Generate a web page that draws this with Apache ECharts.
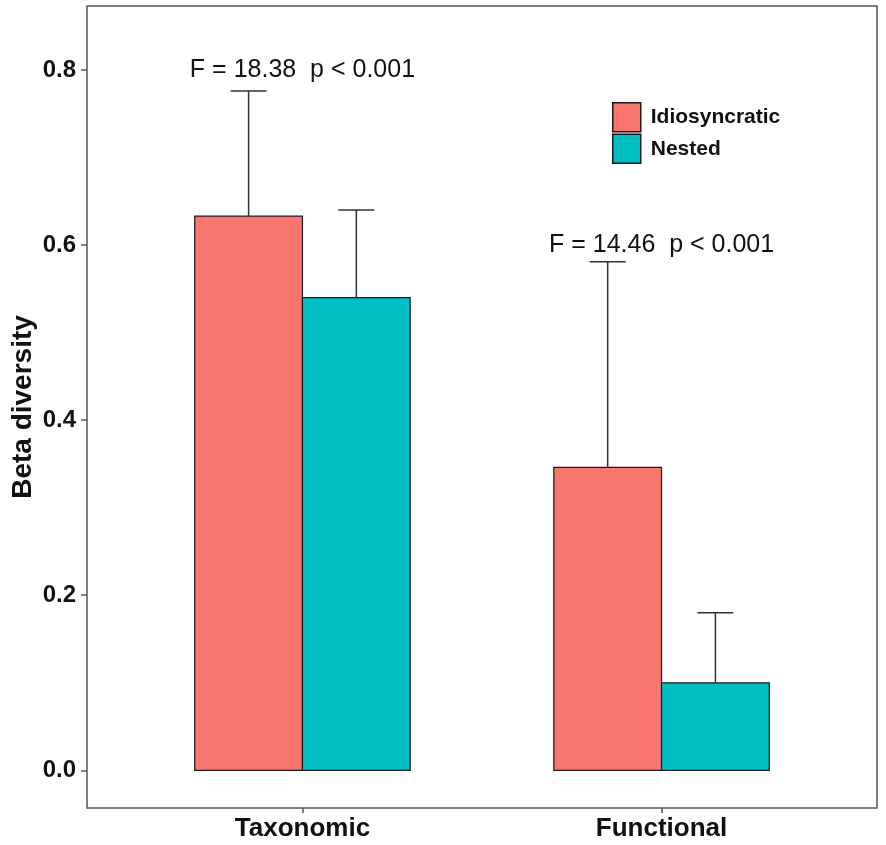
<!DOCTYPE html>
<html>
<head>
<meta charset="utf-8">
<script src="https://cdn.jsdelivr.net/npm/echarts@6/dist/echarts.min.js"></script>
<style>
  html, body { margin: 0; padding: 0; background: #fff; }
  #chart { width: 886px; height: 845px; }
</style>
</head>
<body>
<div id="chart"></div>
<script>
// values
var categories = ['Taxonomic', 'Functional'];
var idioMean = [0.633, 0.346];
var idioUpper = [0.776, 0.581];
var nestedMean = [0.540, 0.100];
var nestedUpper = [0.640, 0.180];
var yTicks = [0, 0.2, 0.4, 0.6, 0.8];
var notes = ['F = 18.38  p < 0.001', 'F = 14.46  p < 0.001'];
var noteY = [0.8, 0.6];

var RED = '#F8766D';
var TEAL = '#00BFC4';
var FONT = '"Liberation Sans", Arial, sans-serif';
var BAR_W = 0.3;   // in category units, like ggplot dodge width 0.6
var CAP_W = 0.05;

function rows(means, uppers) {
  return categories.map(function (c, i) { return [i + 1, means[i], uppers[i]]; });
}

function barRenderer(side) {
  return function (params, api) {
    var x = api.value(0), m = api.value(1), up = api.value(2);
    var x0 = side < 0 ? x - BAR_W : x;
    var xc = x0 + BAR_W / 2;
    var p0 = api.coord([x0, m]);
    var p1 = api.coord([x0 + BAR_W, 0]);
    var pm = api.coord([xc, m]);
    var pu = api.coord([xc, up]);
    var cl = api.coord([xc - CAP_W, up]);
    var cr = api.coord([xc + CAP_W, up]);
    var errStyle = { stroke: '#333', lineWidth: 1.5 };
    return {
      type: 'group',
      children: [
        { type: 'rect', shape: { x: p0[0], y: p0[1], width: p1[0] - p0[0], height: p1[1] - p0[1] },
          style: { fill: api.visual('color'), stroke: '#1a1a1a', lineWidth: 1.2 } },
        { type: 'line', shape: { x1: pm[0], y1: pm[1], x2: pu[0], y2: pu[1] }, style: errStyle },
        { type: 'line', shape: { x1: cl[0], y1: cl[1], x2: cr[0], y2: cr[1] }, style: errStyle }
      ]
    };
  };
}

var chart = echarts.init(document.getElementById('chart'));
chart.setOption({
  animation: false,
  backgroundColor: '#fff',
  grid: {
    left: 87, right: 9, top: 6, bottom: 37,
    outerBoundsMode: 'none', containLabel: false,
    show: true, borderColor: '#555', borderWidth: 1.5
  },
  legend: {
    orient: 'vertical',
    left: 607,
    top: 97,
    itemWidth: 28,
    itemHeight: 29,
    itemGap: 1,
    icon: 'rect',
    selectedMode: false,
    textStyle: { fontFamily: FONT, fontSize: 21, fontWeight: 'bold', color: '#111', padding: [0, 0, 0, 5] },
    data: [
      { name: 'Idiosyncratic', itemStyle: { color: RED, borderColor: '#1a1a1a', borderWidth: 1.5 } },
      { name: 'Nested', itemStyle: { color: TEAL, borderColor: '#1a1a1a', borderWidth: 1.5 } }
    ]
  },
  xAxis: {
    type: 'value',
    min: 0.4,
    max: 2.6,
    splitLine: { show: false },
    axisLine: { show: false, onZero: false },
    axisTick: { show: true, length: 5, customValues: [1, 2], lineStyle: { color: '#555', width: 1.5 } },
    axisLabel: {
      customValues: [1, 2],
      formatter: function (v) { return categories[Math.round(v) - 1]; },
      fontFamily: FONT, fontSize: 26, fontWeight: 'bold', color: '#111', margin: 8
    }
  },
  yAxis: {
    type: 'value',
    min: -0.043,
    max: 0.873,
    name: 'Beta diversity',
    nameLocation: 'middle',
    nameGap: 50,
    nameMoveOverlap: false,
    nameTextStyle: { fontFamily: FONT, fontSize: 28, fontWeight: 'bold', color: '#111' },
    splitLine: { show: false },
    axisLine: { show: false, onZero: false },
    axisTick: { show: true, length: 6, customValues: yTicks, lineStyle: { color: '#555', width: 1.5 } },
    axisLabel: {
      customValues: yTicks,
      formatter: function (v) { return v.toFixed(1); },
      fontFamily: FONT, fontSize: 24, fontWeight: 'bold', color: '#111', margin: 11
    }
  },
  series: [
    {
      name: 'Idiosyncratic', type: 'custom', itemStyle: { color: RED },
      renderItem: barRenderer(-1), data: rows(idioMean, idioUpper)
    },
    {
      name: 'Nested', type: 'custom', itemStyle: { color: TEAL },
      renderItem: barRenderer(1), data: rows(nestedMean, nestedUpper)
    },
    {
      name: 'notes', type: 'custom', silent: true,
      data: categories.map(function (c, i) { return [i + 1, noteY[i], i]; }),
      renderItem: function (params, api) {
        var p = api.coord([api.value(0), api.value(1)]);
        return {
          type: 'text', x: p[0], y: p[1],
          style: { text: notes[api.value(2)], fill: '#111', font: '25px ' + FONT, align: 'center', verticalAlign: 'middle' }
        };
      }
    }
  ]
});
</script>
</body>
</html>
